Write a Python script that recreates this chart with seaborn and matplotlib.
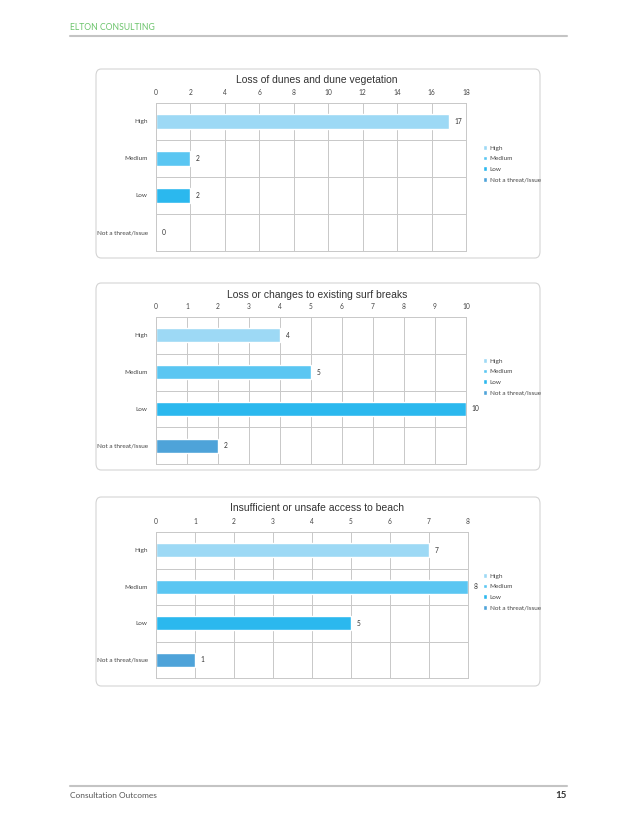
import pandas as pd
import matplotlib.pyplot as plt
import seaborn as sns
from matplotlib.patches import FancyBboxPatch

# Survey responses per threat level
levels = ['High', 'Medium', 'Low', 'Not a threat/Issue']
dunes_counts = [17, 2, 2, 0]
surf_counts = [4, 5, 10, 2]
access_counts = [7, 8, 5, 1]

titles = ['Loss of dunes and dune vegetation',
          'Loss or changes to existing surf breaks',
          'Insufficient or unsafe access to beach']
x_maxes = [18, 10, 8]
x_steps = [2, 1, 1]

colors = ['#9dd9f5', '#5ac6f2', '#2bb8ee', '#4ea3d9']

sns.set_theme(style='white')
plt.rcParams['font.family'] = ['Lato', 'DejaVu Sans']

W, H = 637, 824
fig = plt.figure(figsize=(W / 100, H / 100), dpi=100)


def fx(px):
    return px / W


def fy(py):
    return 1 - py / H


# page header
fig.text(fx(70), fy(27), 'ELTON CONSULTING', color='#6cc46c', fontsize=6.2,
         va='center', ha='left')
fig.add_artist(plt.Line2D([fx(70), fx(567)], [fy(36), fy(36)], color='#c4c4c4', lw=1.5))

# page footer
fig.add_artist(plt.Line2D([fx(70), fx(567)], [fy(786), fy(786)], color='#c4c4c4', lw=1.5))
fig.text(fx(70), fy(796), 'Consultation Outcomes', color='#555555', fontsize=6,
         va='center', ha='left')
fig.text(fx(567), fy(796), '15', color='#333333', fontsize=7, fontweight='bold',
         va='center', ha='right')

# chart frames (pixel boxes) and plot areas
boxes = [(96, 69, 540, 258), (96, 283, 540, 470), (96, 497, 540, 686)]
plots = [(156, 103, 466, 251), (156, 317, 466, 464), (156, 532, 468, 678)]
title_y = [80, 295, 508]
all_counts = [dunes_counts, surf_counts, access_counts]

for i in range(3):
    bx0, by0, bx1, by1 = boxes[i]
    fig.add_artist(FancyBboxPatch((fx(bx0), fy(by1)), fx(bx1 - bx0), (by1 - by0) / H,
                                  boxstyle='round,pad=0,rounding_size=0.008',
                                  transform=fig.transFigure, facecolor='white',
                                  edgecolor='#d4d4d4', lw=0.8, zorder=0))
    fig.text(fx((bx0 + bx1) / 2 - 1), fy(title_y[i]), titles[i], fontsize=7.5,
             family=['Liberation Sans', 'DejaVu Sans'], color='#333333',
             ha='center', va='center')

    x0, y0, x1, y1 = plots[i]
    ax = fig.add_axes([fx(x0), fy(y1), fx(x1 - x0), (y1 - y0) / H])
    df = pd.DataFrame({'level': levels, 'count': all_counts[i]})
    sns.barplot(data=df, x='count', y='level', hue='level', palette=colors,
                hue_order=levels, order=levels, orient='h', width=0.38,
                saturation=1, legend=True, ax=ax)

    for cont in ax.containers:
        ax.bar_label(cont, fmt='%d', padding=4, fontsize=4.8, color='#333333')

    ax.set_xlim(0, x_maxes[i])
    ax.set_ylim(3.5, -0.5)
    ax.set_xticks(range(0, x_maxes[i] + 1, x_steps[i]))
    ax.xaxis.tick_top()
    ax.tick_params(axis='x', length=0, pad=5, labelsize=4.8, colors='#444444')
    ax.tick_params(axis='y', length=0, pad=6, labelsize=4.6, colors='#444444')
    ax.set_xlabel('')
    ax.set_ylabel('')
    ax.xaxis.grid(True, color='#c8c8c8', lw=0.7)
    ax.set_axisbelow(True)
    for yb in [0.5, 1.5, 2.5]:
        ax.axhline(yb, color='#c8c8c8', lw=0.7, zorder=0)
    for sp in ax.spines.values():
        sp.set_color('#c8c8c8')
        sp.set_linewidth(0.7)

    leg_top = (y1 - (by0 + by1) / 2 + 21) / (y1 - y0)
    sns.move_legend(ax, loc='upper left', bbox_to_anchor=((480 - x0) / (x1 - x0), leg_top),
                    frameon=False, title=None, fontsize=4.6, handlelength=0.75,
                    handleheight=0.75, handletextpad=0.35, labelspacing=0.8,
                    borderaxespad=0)
    for t in ax.get_legend().get_texts():
        t.set_color('#444444')

fig.savefig('out.png', dpi=100)
